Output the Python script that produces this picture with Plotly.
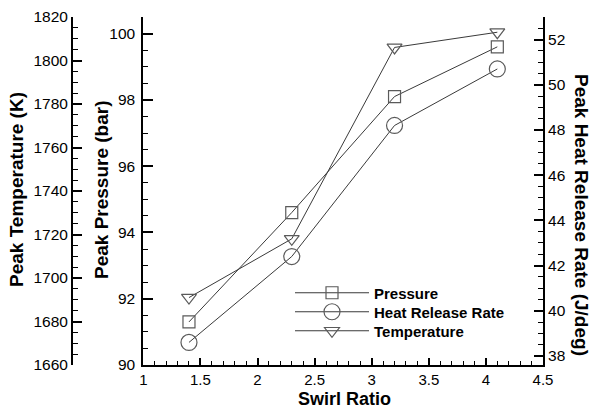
import plotly.graph_objects as go

swirl_ratio = [1.4, 2.3, 3.2, 4.1]
peak_pressure = [91.3, 94.6, 98.1, 99.6]          # bar
peak_hrr = [38.6, 42.4, 48.2, 50.7]               # J/deg
peak_temperature = [1691, 1718, 1806, 1813]       # K

W, H = 591, 409
ML, MR, MT, MB = 72, 48, 17, 44
PW = W - ML - MR
PH = H - MT - MB
X0 = (143.3 - ML) / PW

def px(x):
    return (x - ML) / PW

def py(y):
    return (H - MB - y) / PH

FONT = "Liberation Sans, Arial, sans-serif"
LINE_C = "#3a3a3a"
MARK_C = "#5a5a5a"

fig = go.Figure()
common = dict(mode="lines+markers", line=dict(color=LINE_C, width=1))
fig.add_trace(go.Scatter(x=swirl_ratio, y=peak_pressure, name="Pressure", yaxis="y", legend="legend",
                         marker=dict(symbol="square-open", size=12, color=MARK_C, line=dict(width=1.2)),
                         **common))
fig.add_trace(go.Scatter(x=swirl_ratio, y=peak_hrr, name="Heat Release Rate", yaxis="y3", legend="legend2",
                         marker=dict(symbol="circle-open", size=16, color=MARK_C, line=dict(width=1.2)),
                         **common))
fig.add_trace(go.Scatter(x=swirl_ratio, y=peak_temperature, name="Temperature", yaxis="y2", legend="legend3",
                         marker=dict(symbol="triangle-down-open", size=13, color=MARK_C, line=dict(width=1.2)),
                         **common))

tickfont = dict(family=FONT, size=15.5, color="black")
ax_common = dict(showgrid=False, zeroline=False, showline=True, linecolor="black", linewidth=2,
                 ticks="inside", tickcolor="black", tickwidth=2, tickfont=tickfont, automargin=False)

lfont = dict(family=FONT, size=15, color="black", weight="bold")
def leg(ycen):
    return dict(x=px(290), y=py(ycen), xanchor="left", yanchor="middle",
                bgcolor="rgba(0,0,0,0)", itemwidth=74, font=lfont)

fig.update_layout(
    width=W, height=H,
    margin=dict(l=ML, r=MR, t=MT, b=MB),
    paper_bgcolor="white", plot_bgcolor="white",
    showlegend=True,
    legend=leg(293), legend2=leg(312), legend3=leg(331),
    xaxis=dict(domain=[X0, 1], range=[1, 4.5], dtick=0.5, tick0=1, ticklen=7,
               ticklabelstandoff=0,
               minor=dict(dtick=0.1, ticklen=4, ticks="inside", tickcolor="black", tickwidth=1),
               **{**ax_common, "tickfont": dict(family=FONT, size=15, color="black")}),
    yaxis=dict(range=[90, 100.5], dtick=2, tick0=90, ticklen=10, anchor="x", side="left",
               ticklabelstandoff=3,
               minor=dict(dtick=0.5, ticklen=5, ticks="inside", tickcolor="black", tickwidth=1),
               **ax_common),
    yaxis2=dict(range=[1660, 1820], dtick=20, tick0=1660, ticklen=9, overlaying="y",
                anchor="free", position=0, side="left",
                minor=dict(dtick=5, ticklen=5, ticks="inside", tickcolor="black", tickwidth=1),
                **ax_common),
    yaxis3=dict(range=[37.6, 53], dtick=2, tick0=38, ticklen=9, overlaying="y",
                anchor="x", side="right",
                minor=dict(dtick=0.5, ticklen=5, ticks="inside", tickcolor="black", tickwidth=1),
                **ax_common),
)

tfont = dict(family=FONT, size=19, color="black", weight="bold")
annots = [
    dict(text="Peak Temperature (K)", x=px(16), y=py(190), textangle=-90, font=tfont),
    dict(text="Peak Pressure (bar)", x=px(101), y=py(190), textangle=-90, font=tfont),
    dict(text="Peak Heat Release Rate (J/deg)", x=px(582), y=py(215), textangle=90, font=tfont),
    dict(text="Swirl Ratio", x=px(344), y=py(399), textangle=0, borderpad=0,
         font=dict(family=FONT, size=18, color="black", weight="bold")),
]
for a in annots:
    fig.add_annotation(xref="paper", yref="paper", showarrow=False,
                       xanchor="center", yanchor="middle", **a)

fig.write_html("out.html", config={"displayModeBar": False},
               post_script="document.body.style.margin='0';")
